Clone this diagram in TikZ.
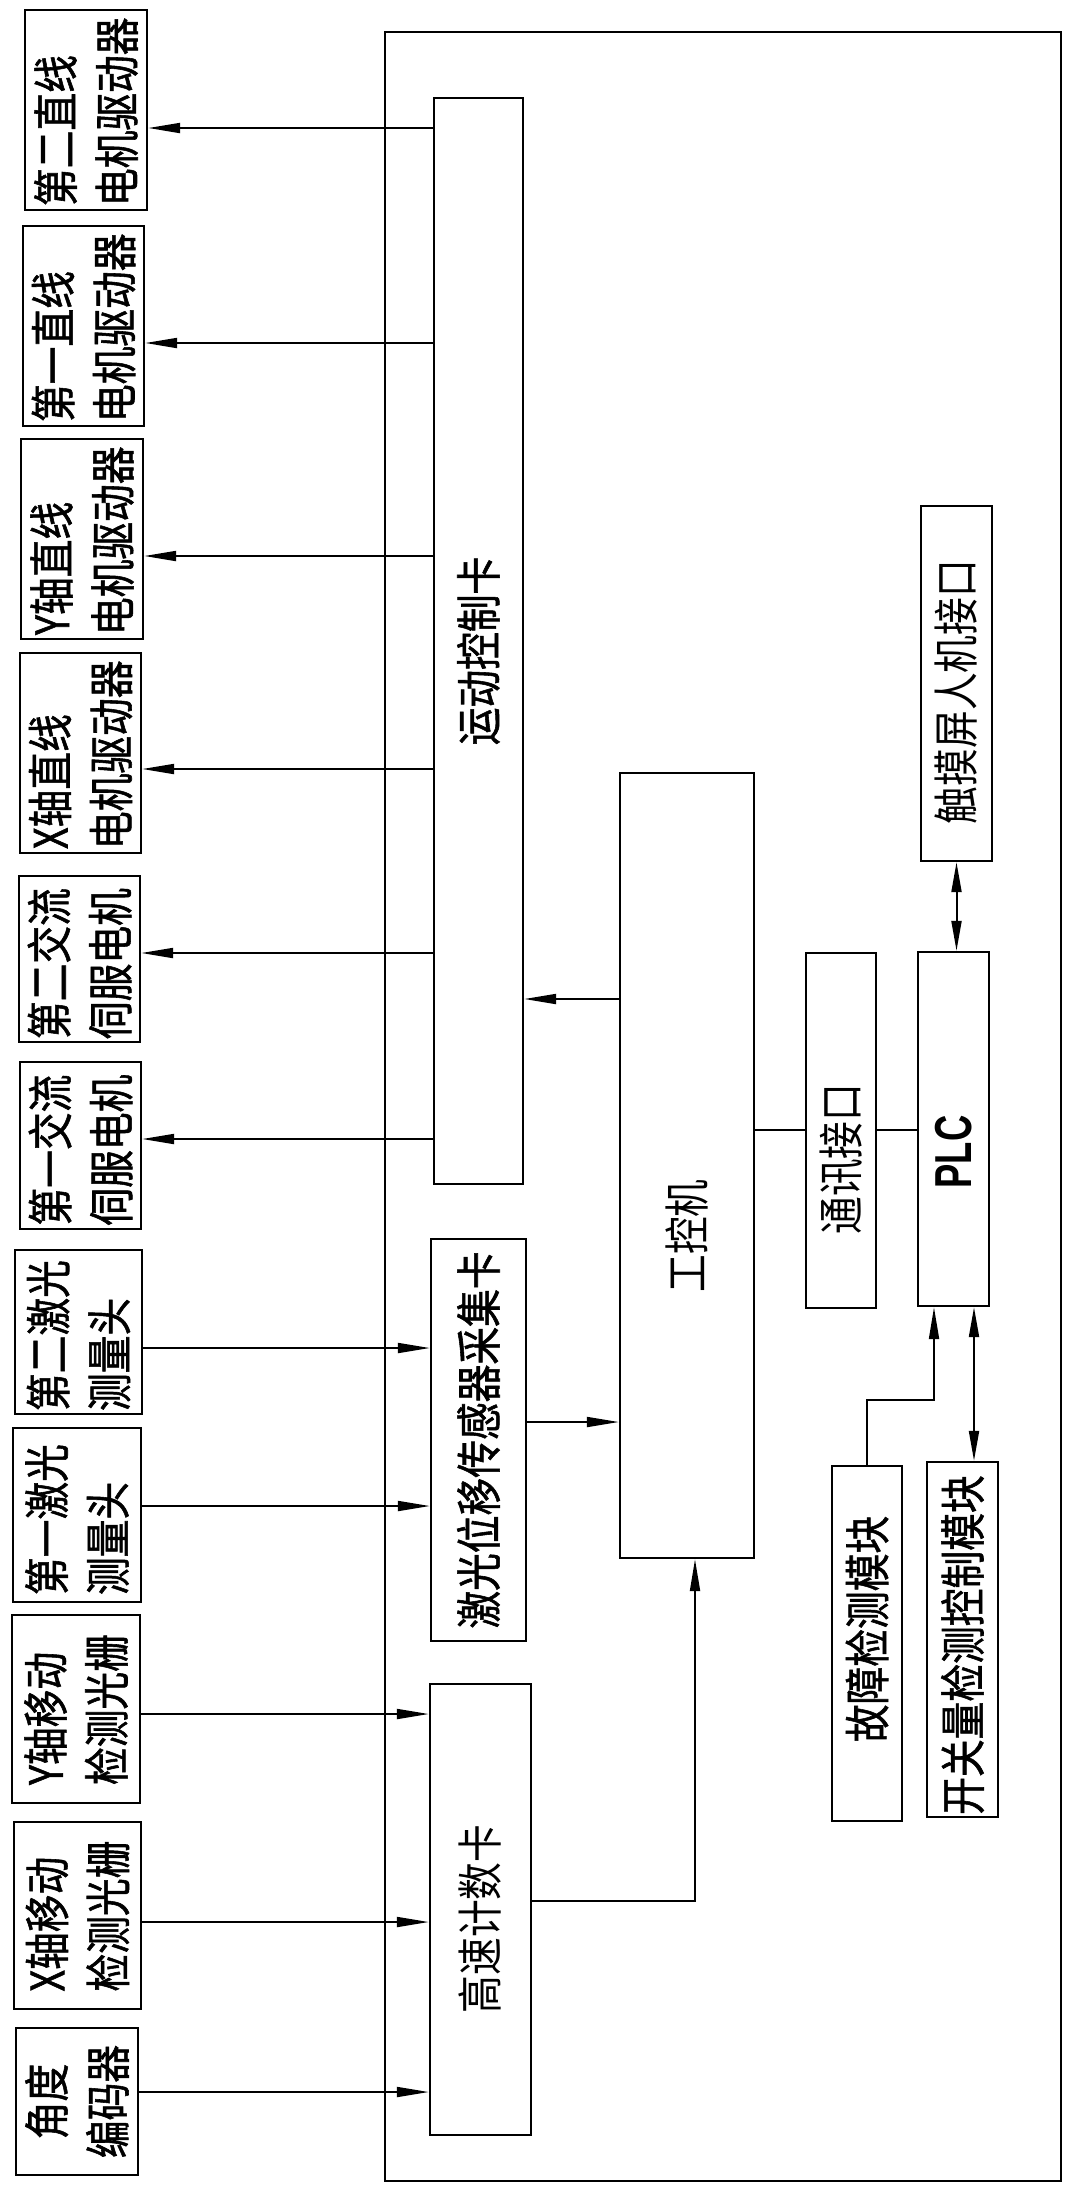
\documentclass[tikz,border=0pt]{standalone}
\usepackage{fontspec}
\newfontfamily\cjk{Noto Sans CJK SC}[FakeStretch=0.82]
\newfontfamily\cjkb{Noto Sans CJK SC}[FakeStretch=0.82,FakeBold=1.2]
\newfontfamily\plcfont{Liberation Sans}[FakeStretch=0.7]
\usetikzlibrary{arrows.meta,fit}
\tikzset{
  box/.style={draw, line width=1.2pt, inner sep=0pt},
  lbl/.style={font=\cjk\fontsize{23}{30.5}\selectfont, rotate=90, inner sep=0pt},
  hlbl/.style={lbl, font=\cjkb\fontsize{23}{30.5}\selectfont},
  ltxt/.style={hlbl, text width=#1, align=left},
  arr/.style={line width=1pt, -{Triangle[length=16pt,width=5pt]}},
  darr/.style={line width=1pt, {Triangle[length=15pt,width=5pt]}-{Triangle[length=15pt,width=5pt]}},
  link/.style={line width=1pt},
}
\begin{document}
\begin{tikzpicture}[x=0.5pt,y=0.5pt,yscale=-1,xscale=1]
\useasboundingbox (0,0) rectangle (1077,2197);

%Shape: Rectangle [outer frame]
\draw [line width=1.2pt] (385,32) rectangle (1061,2181);

%Shape: Rectangle [left column]
\node [box, fit={(25,10) (147,210)}] (drvB) {};
\node [box, fit={(23,226) (144,426)}] (drvA) {};
\node [box, fit={(21,439) (143,639)}] (drvY) {};
\node [box, fit={(20,653) (141,853)}] (drvX) {};
\node [box, fit={(19,876) (140,1042)}] (srvB) {};
\node [box, fit={(20,1062) (141,1229)}] (srvA) {};
\node [box, fit={(15,1250) (142,1414)}] (lasB) {};
\node [box, fit={(13,1428) (141,1602)}] (lasA) {};
\node [box, fit={(12,1615) (140,1803)}] (grtY) {};
\node [box, fit={(14,1822) (141,2009)}] (grtX) {};
\node [box, fit={(16,2028) (138,2175)}] (enc) {};

%Shape: Rectangle [cards]
\node [box, fit={(434,98) (523,1184)}] (mc) {};
\node [box, fit={(431,1239) (526,1641)}] (lc) {};
\node [box, fit={(430,1684) (531,2135)}] (hc) {};
\node [box, fit={(620,773) (754,1558)}] (ipc) {};
\node [box, fit={(806,953) (876,1308)}] (comm) {};
\node [box, fit={(918,952) (989,1306)}] (plc) {};
\node [box, fit={(921,506) (992,861)}] (touch) {};
\node [box, fit={(832,1466) (902,1821)}] (fault) {};
\node [box, fit={(927,1462) (998,1817)}] (sw) {};

% Text Node
\node [ltxt=96pt] (t-drvB) at (drvB.center) {第二直线\\电机驱动器};
\node [ltxt=96pt] (t-drvA) at (drvA.center) {第一直线\\电机驱动器};
\node [ltxt=96pt] (t-drvY) at (drvY.center) {Y轴直线\\电机驱动器};
\node [ltxt=96pt] (t-drvX) at (drvX.center) {X轴直线\\电机驱动器};
\node [ltxt=80pt] (t-srvB) at (srvB.center) {第二交流\\伺服电机};
\node [ltxt=80pt] (t-srvA) at (srvA.center) {第一交流\\伺服电机};
\node [ltxt=79pt] (t-lasB) at (lasB.center) {第二激光\\测量头};
\node [ltxt=80pt] (t-lasA) at (lasA.center) {第一激光\\测量头};
\node [ltxt=76pt] (t-grtY) at (grtY.center) {Y轴移动\\检测光栅};
\node [ltxt=76pt] (t-grtX) at (grtX.center) {X轴移动\\检测光栅};
\node [hlbl, text width=70pt, align=center] (t-enc) at (enc.center) {角度\\编码器};

% Text Node
\node [hlbl] (t-mc) at (mc.center |- 0,651) {运动控制卡};
\node [hlbl] (t-lc) at (lc.center) {激光位移传感器采集卡};
\node [lbl] (t-hc) at (hc.center |- 0,1919) {高速计数卡};
\node [lbl] (t-ipc) at (ipc.center |- 0,1236) {工控机};
\node [lbl] (t-comm) at (comm.center |- 0,1159) {通讯接口};
\node [lbl, font=\plcfont\bfseries\fontsize{26}{30}\selectfont] (t-plc) at (plc.center |- 0,1152) {PLC};
\node [lbl] (t-touch) at (touch.center |- 0,692) {触摸屏人机接口};
\node [hlbl] (t-fault) at (fault.center |- 0,1629) {故障检测模块};
\node [hlbl] (t-sw) at (sw.center |- 0,1645) {开关量检测控制模块};

%Straight Lines [motion card outputs]
\draw [arr] (mc.west |- 0,128) -- (drvB.east |- 0,128);
\draw [arr] (mc.west |- 0,343) -- (drvA.east |- 0,343);
\draw [arr] (mc.west |- 0,556) -- (drvY.east |- 0,556);
\draw [arr] (mc.west |- 0,769) -- (drvX.east |- 0,769);
\draw [arr] (mc.west |- 0,953) -- (srvB.east |- 0,953);
\draw [arr] (mc.west |- 0,1139) -- (srvA.east |- 0,1139);

%Straight Lines [sensor inputs]
\draw [arr] (lasB.east |- 0,1348) -- (lc.west |- 0,1348);
\draw [arr] (lasA.east |- 0,1506) -- (lc.west |- 0,1506);
\draw [arr] (grtY.east |- 0,1714) -- (hc.west |- 0,1714);
\draw [arr] (grtX.east |- 0,1922) -- (hc.west |- 0,1922);
\draw [arr] (enc.east |- 0,2092) -- (hc.west |- 0,2092);

%Straight Lines [computer]
\draw [arr] (ipc.west |- 0,999) -- (mc.east |- 0,999);
\draw [arr] (lc.east |- 0,1422) -- (ipc.west |- 0,1422);
\draw [arr] (hc.east |- 0,1901) -| ([xshift=4pt]ipc.south);
\draw [link] (ipc.east |- 0,1130) -- (comm.west |- 0,1130);
\draw [link] (comm.east |- 0,1130) -- (plc.west |- 0,1130);

%Straight Lines [plc]
\coordinate (bend) at (934,1400);
\draw [darr] (touch.south) -- (touch.south |- plc.north);
\draw [arr] (fault.north) |- (bend) -- (bend |- plc.south);
\draw [darr] (sw.north -| 974,0) -- (plc.south -| 974,0);

\end{tikzpicture}
\end{document}
